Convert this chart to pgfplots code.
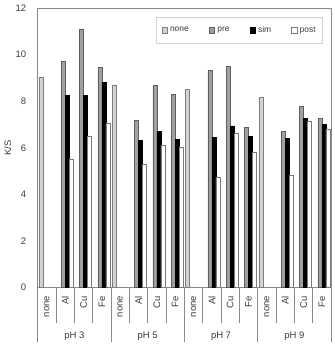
\documentclass[border=0pt]{standalone}
\usepackage{pgfplots}
\pgfplotsset{compat=1.18}
\usepackage{fontspec}
\setmainfont{Liberation Sans}

\definecolor{axisgray}{HTML}{8A8A8A}
\definecolor{labelgray}{HTML}{3C3C3C}
\definecolor{nonefill}{HTML}{D2D2D2}
\definecolor{noneedge}{HTML}{7E7E7E}
\definecolor{prefill}{HTML}{A0A0A0}
\definecolor{preedge}{HTML}{5E5E5E}
\definecolor{postedge}{HTML}{7A7A7A}

\begin{document}
\begin{tikzpicture}
\begin{axis}[
  scale only axis,
  width=293.3bp, height=279.5bp,
  ybar,
  bar width=0.218,
  xmin=0, xmax=16,
  ymin=0, ymax=12,
  ytick={0,2,...,12},
  xtick={0.5,1.5,...,15.5},
  xticklabels={none,Al,Cu,Fe,none,Al,Cu,Fe,none,Al,Cu,Fe,none,Al,Cu,Fe},
  xticklabel style={rotate=90, anchor=east, yshift=0bp, xshift=-5bp,
    font=\fontsize{9.5}{10}\selectfont, text=labelgray},
  yticklabel style={xshift=-8bp, font=\fontsize{9.5}{10}\selectfont, text=labelgray},
  /pgf/number format/assume math mode=true,
  major tick length=0pt,
  axis line style={axisgray, line width=0.8pt},
  ylabel={K/S},
  every axis y label/.style={at={(rel axis cs:0,0.5)}, xshift=-30bp, rotate=90,
    anchor=center, font=\fontsize{9.5}{10}\selectfont, text=labelgray},
  clip=false,
  legend columns=4,
  legend style={at={(rel axis cs:1,1)}, anchor=north east, xshift=-8bp, yshift=-9bp,
    draw=black!18, line width=0.6pt, font=\fontsize{8.5}{9.5}\selectfont, text=labelgray,
    inner xsep=5bp, inner ysep=7bp,
    /tikz/every even column/.append style={column sep=18bp},
    /tikz/every odd column/.append style={column sep=0.5bp}},
  legend cell align=left,
  legend image code/.code={\draw[#1, line width=0.6pt] (0bp,-2.7bp) rectangle (5.4bp,2.7bp);},
]
% untreated reference at each pH
\addplot[bar shift=-0.327, fill=nonefill, draw=noneedge, line width=0.6pt]
  coordinates {(0.5,9.03) (4.5,8.70) (8.5,8.50) (12.5,8.15)};
% pre-treatment
\addplot[bar shift=-0.109, fill=prefill, draw=preedge, line width=0.6pt]
  coordinates {(1.5,9.72) (2.5,11.10) (3.5,9.45)
               (5.5,7.19) (6.5,8.66) (7.5,8.29)
               (9.5,9.33) (10.5,9.50) (11.5,6.89)
               (13.5,6.69) (14.5,7.79) (15.5,7.26)};
% simultaneous
\addplot[bar shift=0.109, fill=black, draw=black, line width=0.6pt]
  coordinates {(1.5,8.26) (2.5,8.26) (3.5,8.80)
               (5.5,6.33) (6.5,6.69) (7.5,6.36)
               (9.5,6.46) (10.5,6.94) (11.5,6.49)
               (13.5,6.39) (14.5,7.26) (15.5,7.00)};
% post-treatment
\addplot[bar shift=0.327, fill=white, draw=postedge, line width=0.6pt]
  coordinates {(1.5,5.50) (2.5,6.50) (3.5,7.05)
               (5.5,5.29) (6.5,6.10) (7.5,6.04)
               (9.5,4.73) (10.5,6.63) (11.5,5.80)
               (13.5,4.81) (14.5,7.13) (15.5,6.79)};
\legend{none,pre,sim,post}

% separators between categories and between pH groups
\pgfplotsinvokeforeach{1,2,3,5,6,7,9,10,11,13,14,15}{
  \draw[axisgray, line width=0.6pt] (axis cs:#1,0) -- ++(0,-35.5bp);
}
\pgfplotsinvokeforeach{0,4,8,12,16}{
  \draw[axisgray, line width=0.6pt] (axis cs:#1,0) -- ++(0,-54.5bp);
}
% pH group labels
\node[font=\fontsize{9.5}{10}\selectfont, text=labelgray] at ([yshift=-48.5bp]axis cs:2,0) {pH 3};
\node[font=\fontsize{9.5}{10}\selectfont, text=labelgray] at ([yshift=-48.5bp]axis cs:6,0) {pH 5};
\node[font=\fontsize{9.5}{10}\selectfont, text=labelgray] at ([yshift=-48.5bp]axis cs:10,0) {pH 7};
\node[font=\fontsize{9.5}{10}\selectfont, text=labelgray] at ([yshift=-48.5bp]axis cs:14,0) {pH 9};
\end{axis}
\pgfresetboundingbox
\path ([xshift=-37.7bp,yshift=-56.5bp]current axis.south west)
  rectangle ([xshift=4bp,yshift=8bp]current axis.north east);
\end{tikzpicture}
\end{document}
